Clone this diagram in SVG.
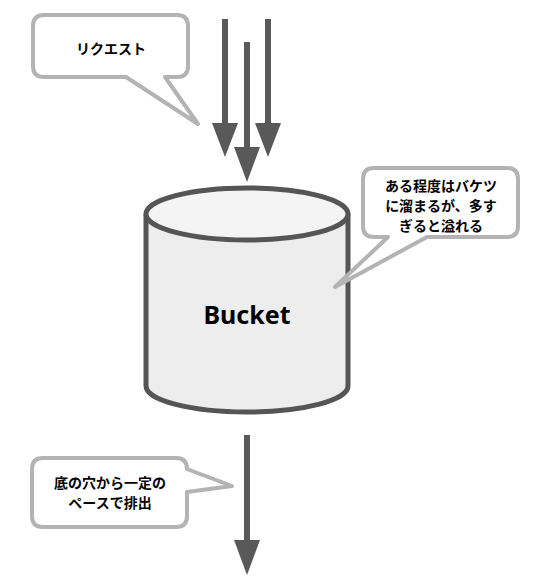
<svg xmlns="http://www.w3.org/2000/svg" width="533" height="587" viewBox="0 0 533 587">
<style>
.callout{fill:#fff;stroke:#b3b3b3;stroke-width:4;stroke-linejoin:round}
.jp{font-family:"Noto Sans CJK JP","Noto Sans",sans-serif;font-weight:bold;font-size:14px;fill:#000;text-anchor:middle}
.arrow{stroke:#595959;stroke-width:6;fill:none}
.head{fill:#595959}
.cyl{fill:#ededed;stroke:#555;stroke-width:5}
</style>
<rect width="533" height="587" fill="#fff"/>
<g id="connectors">
<line class="arrow" x1="225" y1="19" x2="225" y2="125"/>
<polygon class="head" points="212,123 238,123 225,157"/>
<line class="arrow" x1="247" y1="42" x2="247" y2="149"/>
<polygon class="head" points="234,147 260,147 247,182"/>
<line class="arrow" x1="268" y1="19" x2="268" y2="125"/>
<polygon class="head" points="255,123 281,123 268,157"/>
<line class="arrow" x1="247" y1="435" x2="247" y2="542"/>
<polygon class="head" points="234,540 260,540 247,575"/>
</g>
<g id="bucket">
<path class="cyl" d="M146,214 L146,386 A101,26 0 0 0 348,386 L348,214"/>
<ellipse cx="247" cy="214" rx="101" ry="26" fill="#f4f4f4" stroke="#555" stroke-width="5"/>
<text x="247" y="324" font-family="'Noto Sans','Open Sans',sans-serif" font-weight="bold" font-size="25" text-anchor="middle" fill="#000">Bucket</text>
</g>
<g id="callout-request">
<path class="callout" d="M44,15 H177 Q188,15 188,26 V66 Q188,77 177,77 H165 L198,124 L126,77 H44 Q33,77 33,66 V26 Q33,15 44,15 Z"/>
<text class="jp" x="111" y="54">リクエスト</text>
</g>
<g id="callout-overflow">
<path class="callout" d="M374,168 H507 Q518,168 518,179 V226 Q518,237 507,237 H427 L335,287 L388,237 H374 Q363,237 363,226 V179 Q363,168 374,168 Z"/>
<text class="jp" x="441" y="191">ある程度はバケツ</text>
<text class="jp" x="441" y="211">に溜まるが、多す</text>
<text class="jp" x="441" y="231">ぎると溢れる</text>
</g>
<g id="callout-drain">
<path class="callout" d="M43,458 H176 Q187,458 187,469 V469 L232,486 L187,492 V516 Q187,527 176,527 H43 Q32,527 32,516 V469 Q32,458 43,458 Z"/>
<text class="jp" x="110" y="488">底の穴から一定の</text>
<text class="jp" x="110" y="508">ペースで排出</text>
</g>
</svg>
